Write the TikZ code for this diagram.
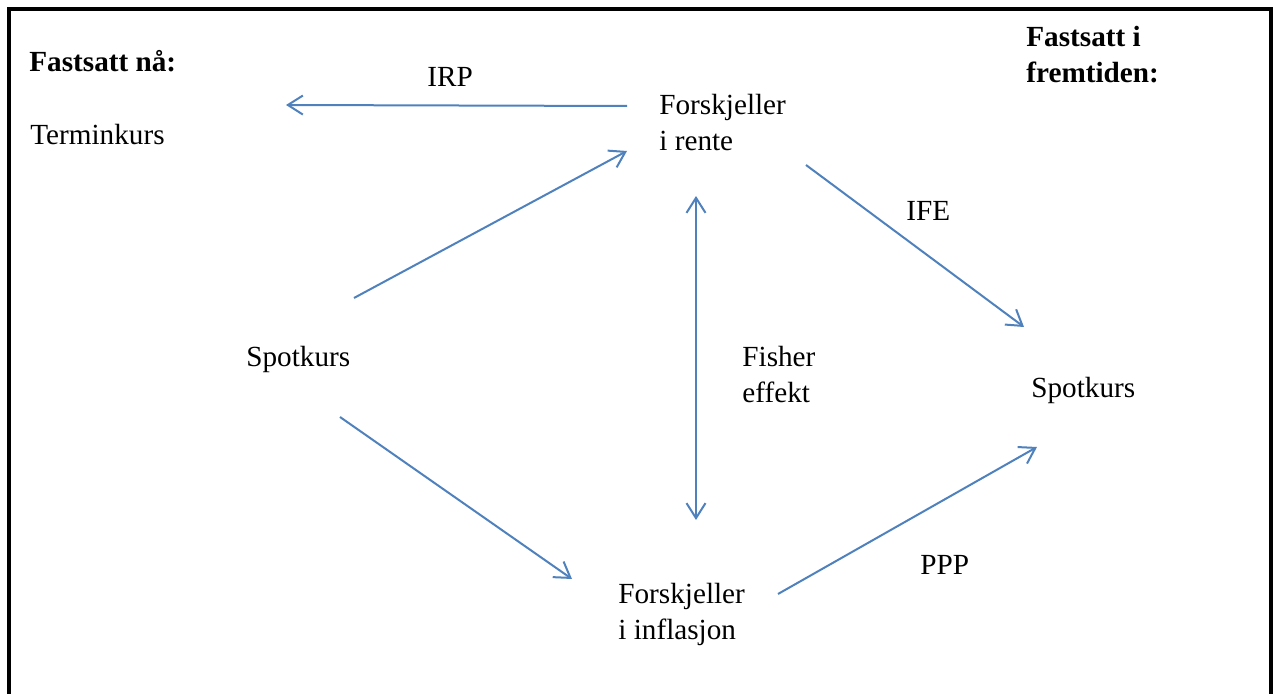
\documentclass[tikz,border=0pt]{standalone}
\usepackage{fontspec}
\setmainfont{Liberation Serif}
\usepackage{tikz}
\usetikzlibrary{
  arrows.meta,
  positioning
}
\definecolor{linkblue}{RGB}{79,129,189}

\begin{document}
\begin{tikzpicture}[
  x=0.5pt, y=-0.5pt,
  label/.style={
    inner sep=0pt,
    anchor=base west,
    align=left,
    font=\fontsize{14.6}{18.2}\selectfont,
  },
  heading/.style={
    label,
    font=\fontsize{14.6}{18.2}\selectfont\bfseries,
  },
  arrow/.style={-{Straight Barb[length=7.5pt,width=9.5pt]}, line width=1pt, linkblue},
  twoway/.style={{Straight Barb[length=7.5pt,width=9.5pt]}-{Straight Barb[length=7.5pt,width=9.5pt]}, line width=1pt, linkblue},
  frame/.style={line width=2pt, black},
]
\useasboundingbox (0,0) rectangle (1276,694);

% ── Frame (open at the bottom) ──
\draw[frame] (9,694) |- (1270.5,9) -- (1270.5,694);

% ── Left column: fixed now ──
\node[heading] (nowlbl) at (29,72) {Fastsatt nå:};
\node[label] (termin) at (30,145) {Terminkurs};
\node[label] (spotnow) at (246,367) {Spotkurs};

% ── Middle column (two-line nodes sit on their last baseline) ──
\node[label] (rente) at (659,151) {Forskjeller\\i rente};
\node[label] (fisher) at (742,403) {Fisher\\effekt};
\node[label] (infl) at (618,640) {Forskjeller\\i inflasjon};

% ── Right column: fixed in the future ──
\node[heading] (futurelbl) at (1026,83) {Fastsatt i\\fremtiden:};
\node[label] (spotfut) at (1031,398) {Spotkurs};

% ── Arrow labels ──
\node[label] (irp) at (427,87) {IRP};
\node[label] (ife) at (906,221) {IFE};
\node[label] (ppp) at (920,575) {PPP};

% ── Arrows ──
\draw[arrow] ([shift={(-32,-45)}]rente.base west) -- ([shift={(256,-40)}]termin.base west);
\draw[arrow] ([shift={(108,-69)}]spotnow.base west) -- ([shift={(-32,0)}]rente.base west);
\draw[arrow] ([shift={(147,14)}]rente.base west) -- ([shift={(-7,-71)}]spotfut.base west);
\draw[twoway] ([shift={(37,45)}]rente.base west) -- ([shift={(78,-120)}]infl.base west);
\draw[arrow] ([shift={(94,50)}]spotnow.base west) -- ([shift={(-46,-61)}]infl.base west);
\draw[arrow] ([shift={(160,-46)}]infl.base west) -- ([shift={(6,49)}]spotfut.base west);

\end{tikzpicture}
\end{document}
